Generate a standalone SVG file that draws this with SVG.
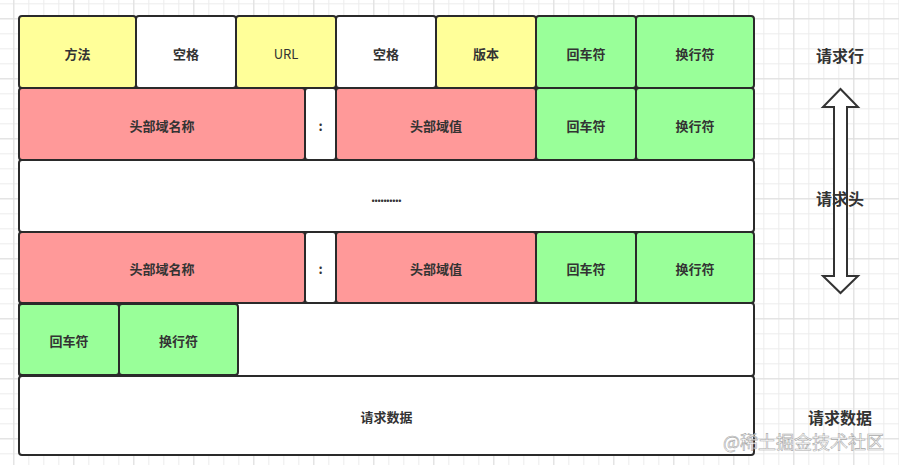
<svg xmlns="http://www.w3.org/2000/svg" width="899" height="465" viewBox="0 0 899 465">
  <defs>
    <pattern id="minor" width="15" height="15" patternUnits="userSpaceOnUse" patternTransform="translate(13.3 3.3)">
      <path d="M0 0.5H15M0.5 0V15" fill="none" stroke="#ececec" stroke-width="1"/>
    </pattern>
    <pattern id="major" width="60" height="60" patternUnits="userSpaceOnUse" patternTransform="translate(13.3 18.3)">
      <path d="M0 0.5H60M0.5 0V60" fill="none" stroke="#dedede" stroke-width="1"/>
    </pattern>
    <style>
      .c { stroke: #2a2a2a; stroke-width: 2; }
      .y { fill: #ffff99; }
      .w { fill: #ffffff; }
      .r { fill: #ff9999; }
      .g { fill: #99ff99; }
      .t { font-family: "Noto Sans CJK SC", "Noto Sans", sans-serif; font-size: 13px; font-weight: bold; fill: #333333; text-anchor: middle; dominant-baseline: central; }
      .tn { font-weight: normal; }
      .side { font-family: "Noto Sans CJK SC", "Noto Sans", sans-serif; font-size: 16px; font-weight: bold; fill: #333333; text-anchor: middle; dominant-baseline: central; }
      .wm { font-family: "Noto Sans CJK SC", sans-serif; font-size: 18px; fill: #ffffff; stroke: #9a9a9a; stroke-width: 0.6; opacity: 0.85; dominant-baseline: central; }
    </style>
  </defs>
  <rect width="899" height="465" fill="#ffffff"/>
  <rect width="899" height="465" fill="url(#minor)"/>
  <rect width="899" height="465" fill="url(#major)"/>

  <!-- Row 1: request line -->
  <g id="row1">
    <g id="method"><rect class="c y" x="19" y="16" width="117" height="72" rx="3"/><text class="t" x="77.5" y="53">方法</text></g>
    <g id="space1"><rect class="c w" x="136" y="16" width="100" height="72" rx="3"/><text class="t" x="186" y="53">空格</text></g>
    <g id="url"><rect class="c y" x="236" y="16" width="100" height="72" rx="3"/><text class="t tn" x="286" y="53">URL</text></g>
    <g id="space2"><rect class="c w" x="336" y="16" width="100" height="72" rx="3"/><text class="t" x="386" y="53">空格</text></g>
    <g id="version"><rect class="c y" x="436" y="16" width="100" height="72" rx="3"/><text class="t" x="486" y="53">版本</text></g>
    <g id="cr1"><rect class="c g" x="536" y="16" width="100" height="72" rx="3"/><text class="t" x="586" y="53">回车符</text></g>
    <g id="lf1"><rect class="c g" x="636" y="16" width="118" height="72" rx="3"/><text class="t" x="695" y="53">换行符</text></g>
  </g>

  <!-- Row 2: header field -->
  <g id="row2">
    <g id="hname1"><rect class="c r" x="19" y="88" width="286" height="72" rx="3"/><text class="t" x="162" y="125">头部域名称</text></g>
    <g id="colon1"><rect class="c w" x="305" y="88" width="31" height="72" rx="3"/><text class="t" x="320.5" y="125">:</text></g>
    <g id="hvalue1"><rect class="c r" x="336" y="88" width="200" height="72" rx="3"/><text class="t" x="436" y="125">头部域值</text></g>
    <g id="cr2"><rect class="c g" x="536" y="88" width="100" height="72" rx="3"/><text class="t" x="586" y="125">回车符</text></g>
    <g id="lf2"><rect class="c g" x="636" y="88" width="118" height="72" rx="3"/><text class="t" x="695" y="125">换行符</text></g>
  </g>

  <!-- Row 3: ellipsis -->
  <g id="row3">
    <rect class="c w" x="19" y="160" width="735" height="72" rx="3"/>
    <text class="t" x="386.5" y="196" textLength="31" font-size="12">..........</text>
  </g>

  <!-- Row 4: header field -->
  <g id="row4">
    <g id="hname2"><rect class="c r" x="19" y="232" width="286" height="71" rx="3"/><text class="t" x="162" y="268.5">头部域名称</text></g>
    <g id="colon2"><rect class="c w" x="305" y="232" width="31" height="71" rx="3"/><text class="t" x="320.5" y="268.5">:</text></g>
    <g id="hvalue2"><rect class="c r" x="336" y="232" width="200" height="71" rx="3"/><text class="t" x="436" y="268.5">头部域值</text></g>
    <g id="cr3"><rect class="c g" x="536" y="232" width="100" height="71" rx="3"/><text class="t" x="586" y="268.5">回车符</text></g>
    <g id="lf3"><rect class="c g" x="636" y="232" width="118" height="71" rx="3"/><text class="t" x="695" y="268.5">换行符</text></g>
  </g>

  <!-- Row 5: empty line -->
  <g id="row5">
    <rect class="c w" x="19" y="303" width="735" height="73" rx="3"/>
    <g id="cr4"><rect class="c g" x="19" y="304" width="100" height="71" rx="3"/><text class="t" x="69" y="340">回车符</text></g>
    <g id="lf4"><rect class="c g" x="119" y="304" width="119" height="71" rx="3"/><text class="t" x="178.5" y="340">换行符</text></g>
  </g>

  <!-- Row 6: body -->
  <g id="row6">
    <rect class="c w" x="19" y="376" width="735" height="79" rx="3"/>
    <text class="t" x="386.5" y="416">请求数据</text>
  </g>

  <!-- Side labels and arrow -->
  <g id="connectors">
    <path d="M840.5 89 L858 107 L847 107 L847 276 L858 276 L840.5 293 L823 276 L834 276 L834 107 L823 107 Z" fill="#ffffff" stroke="#333333" stroke-width="2" stroke-linejoin="miter"/>
  </g>
  <g id="label-line"><text class="side" x="840" y="55">请求行</text></g>
  <g id="label-header"><text class="side" x="840" y="198">请求头</text></g>
  <g id="label-body"><text class="side" x="840" y="417">请求数据</text></g>

  <text class="wm" x="723" y="441">@稀土掘金技术社区</text>
</svg>
